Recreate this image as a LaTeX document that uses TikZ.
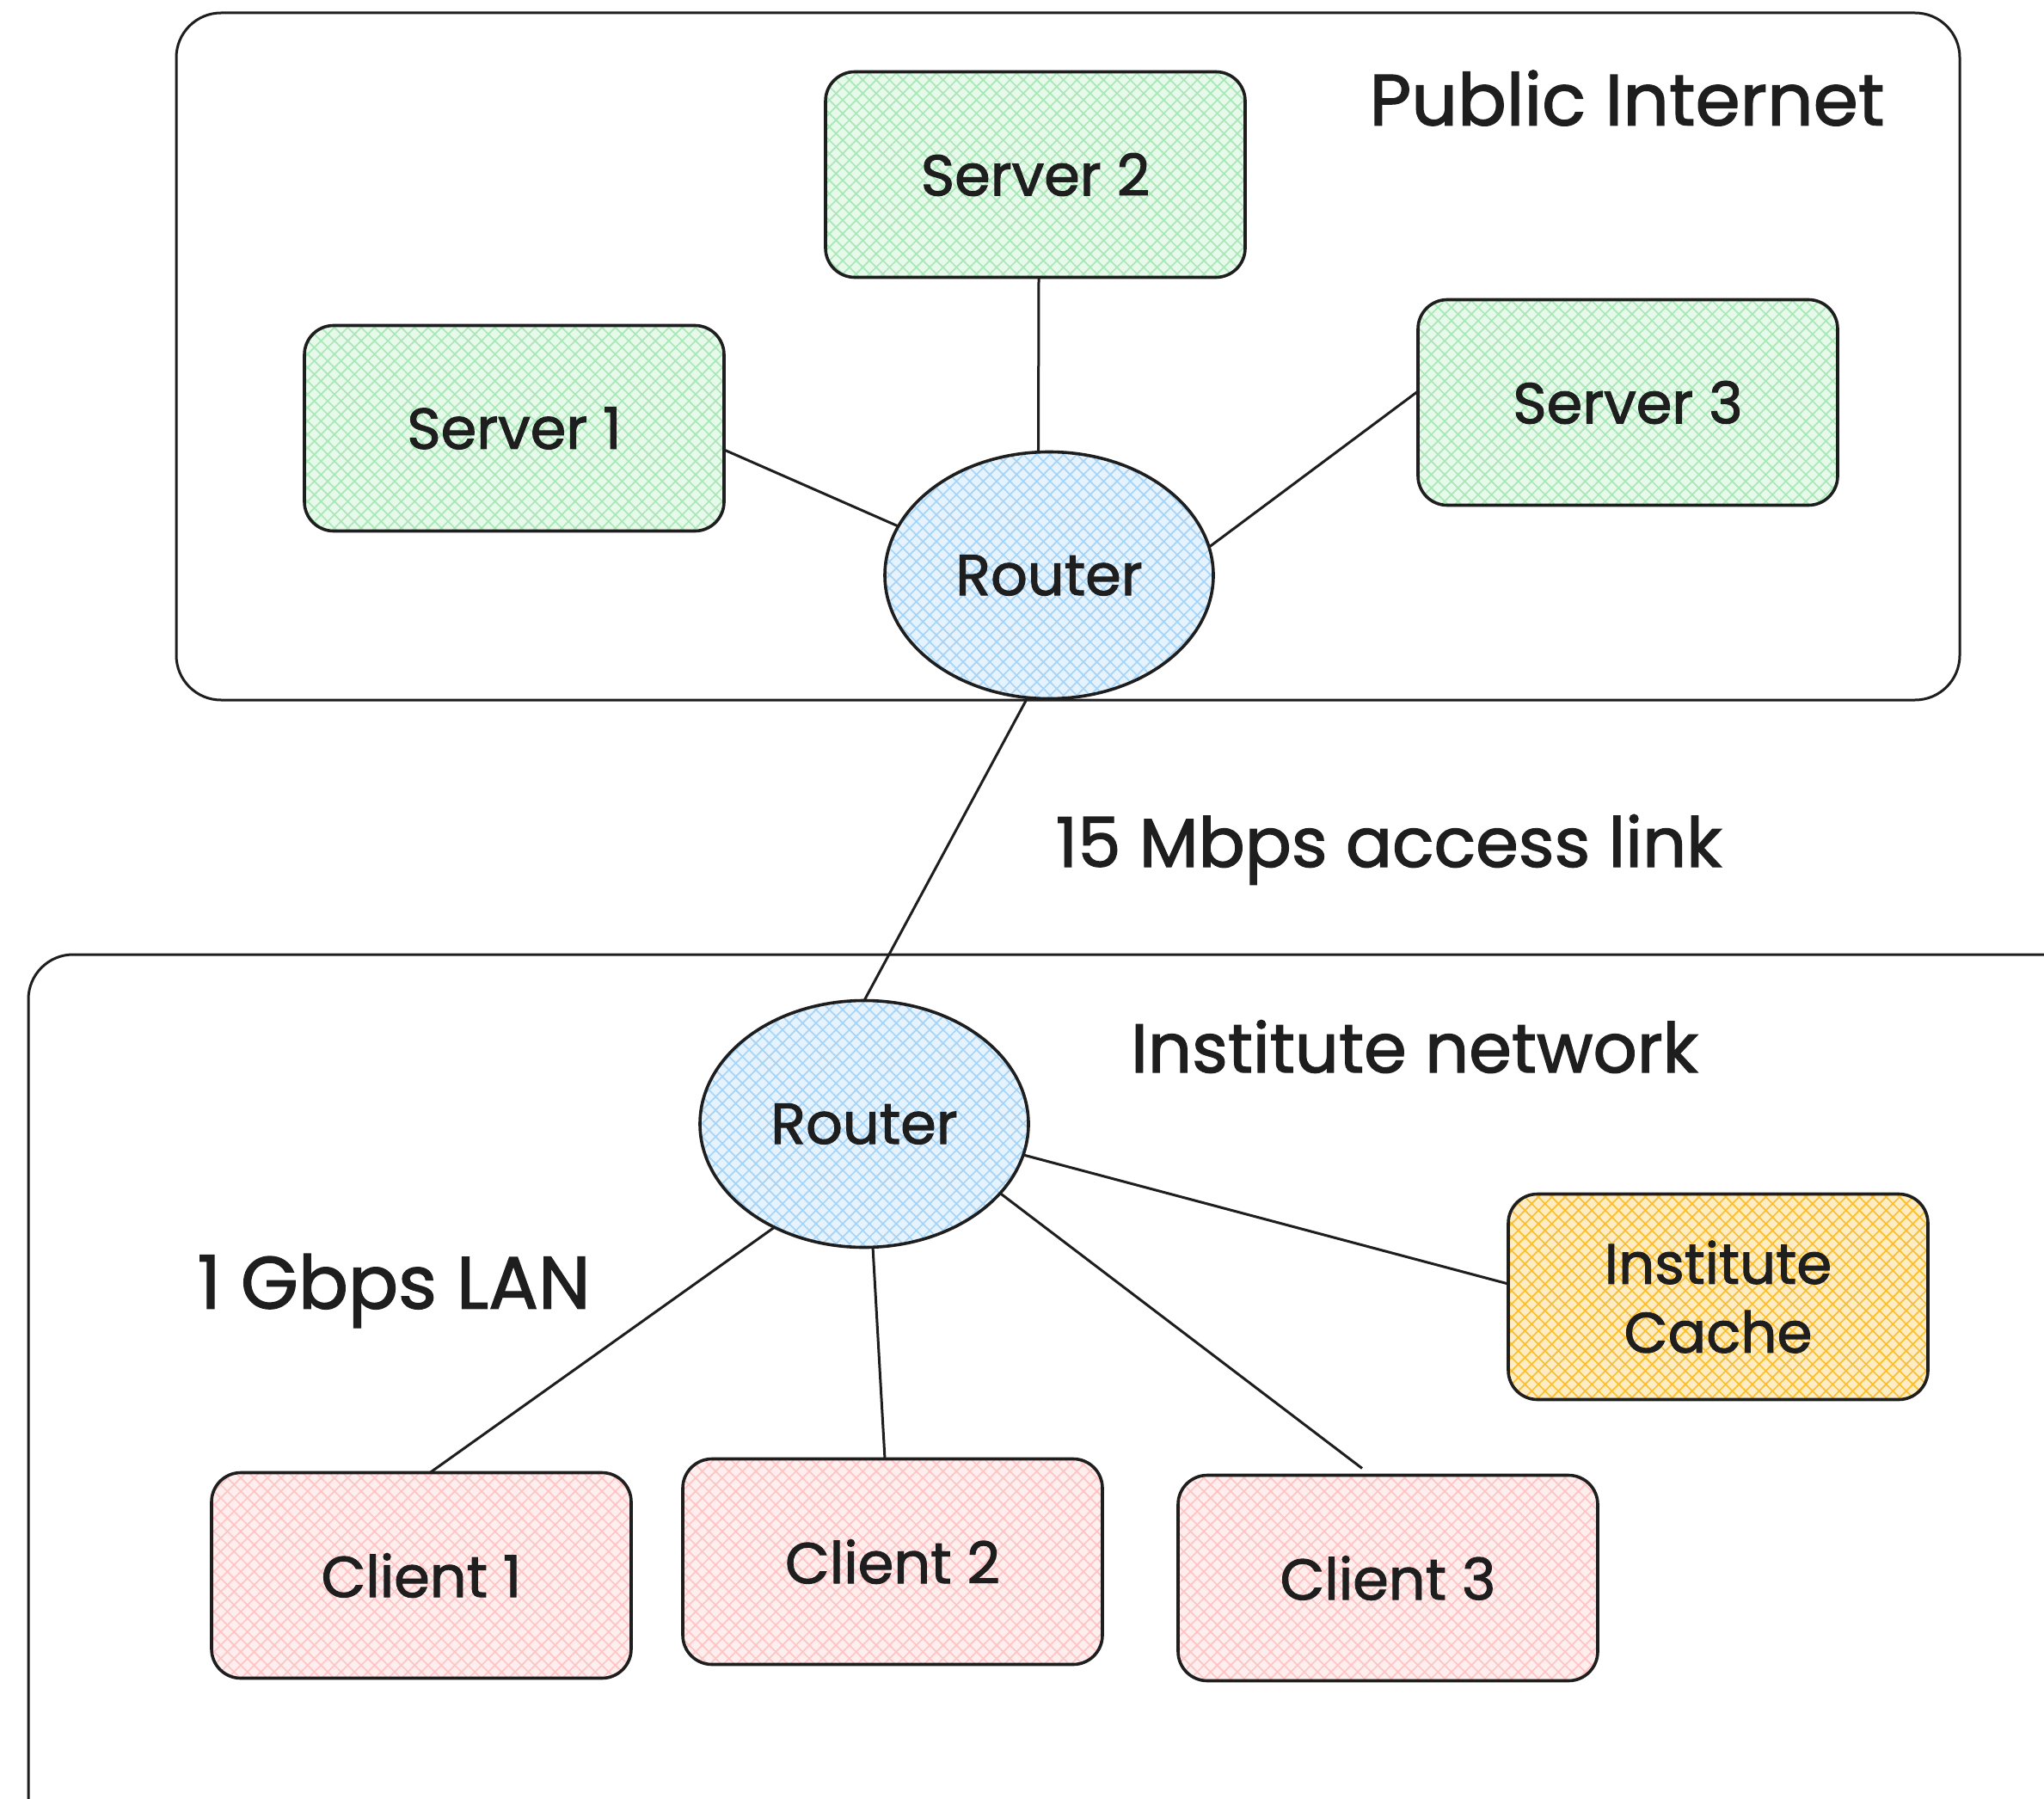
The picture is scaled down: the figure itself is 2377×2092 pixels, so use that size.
\documentclass[tikz,border=0pt]{standalone}
\usepackage{fontspec}
\setmainfont[FakeBold=1.6]{Poppins}
\usetikzlibrary{patterns.meta,shapes.geometric,calc}

\definecolor{ink}{HTML}{1E1E1E}
\definecolor{hgreen}{HTML}{A9E8B6}
\definecolor{hblue}{HTML}{A5D4F7}
\definecolor{hred}{HTML}{FFC4C4}
\definecolor{hyellow}{HTML}{FBBE2E}

\tikzset{
  hatch/.style={
    preaction={fill=#1!28!white},
    preaction={pattern={Lines[angle=45,distance=11pt,line width=1.7pt]},pattern color=#1},
    pattern={Lines[angle=-45,distance=11pt,line width=1.7pt]},pattern color=#1},
  stroke/.style={draw=ink,line width=3.6pt},
  device/.style={stroke,rounded corners=34pt,minimum width=488pt,minimum height=239pt,
    inner sep=0pt,outer sep=0pt,text=ink,font=\fontsize{67}{80}\selectfont,align=center},
  router/.style={stroke,ellipse,minimum width=382pt,minimum height=287pt,
    inner sep=0pt,outer sep=0pt,text=ink,font=\fontsize{67}{80}\selectfont,hatch=hblue},
  area/.style={draw=ink,line width=3pt,rounded corners=52pt},
  caption/.style={text=ink,font=\fontsize{80}{96}\selectfont,inner sep=0pt},
  link/.style={draw=ink,line width=3pt},
}

\begin{document}
\begin{tikzpicture}[x=1pt,y=-1pt]
  \useasboundingbox (0,0) rectangle (2377,2092);
  \clip (0,0) rectangle (2377,2092);
  \fill[white] (0,0) rectangle (2377,2092);

  % network areas
  \draw[area] (205,15) rectangle (2279,814);
  \draw[area] (33,1110) rectangle (2440,2150);

  % public side
  \node[device,hatch=hgreen] (s2) at (1204,203) {Server 2};
  \node[device,hatch=hgreen] (s1) at (598,498) {Server 1};
  \node[device,hatch=hgreen] (s3) at (1893,468) {Server 3};
  \node[router] (r1) at (1220,669) {Router};

  % institute side
  \node[router] (r2) at (1005,1307) {Router};
  \node[device,hatch=hyellow,font=\fontsize{66}{80}\selectfont] (cache) at (1998,1508) {Institute\\Cache};
  \node[device,hatch=hred] (c1) at (490,1832) {Client 1};
  \node[device,hatch=hred] (c2) at (1038,1816) {Client 2};
  \node[device,hatch=hred] (c3) at (1614,1835) {Client 3};

  % links
  \draw[link] ($(s2.south)+(4,0)$) -- (r1.95);
  \draw[link] ($(s1.east)+(0,25)$) -- (r1.162);
  \draw[link] ($(s3.west)+(0,-13)$) -- (r1.10);
  \draw[link] (r1.260) -- (r2.90);
  \draw[link] (r2.349) -- ($(cache.west)+(0,-15)$);
  \draw[link] (r2.229) -- ($(c1.north)+(10,0)$);
  \draw[link] (r2.274) -- ($(c2.north)+(-9,0)$);
  \draw[link] (r2.333) -- ($(c3.north)+(-30,-8)$);

  % labels
  \node[caption,font=\fontsize{84}{100}\selectfont] (pub) at (1892,114) {Public Internet};
  \node[caption] (acc) at (1615,988) {15 Mbps access link};
  \node[caption] (inst) at (1645,1217) {Institute network};
  \node[caption,font=\fontsize{86}{100}\selectfont] (lan) at (458,1501) {1 Gbps LAN};
\end{tikzpicture}
\end{document}
